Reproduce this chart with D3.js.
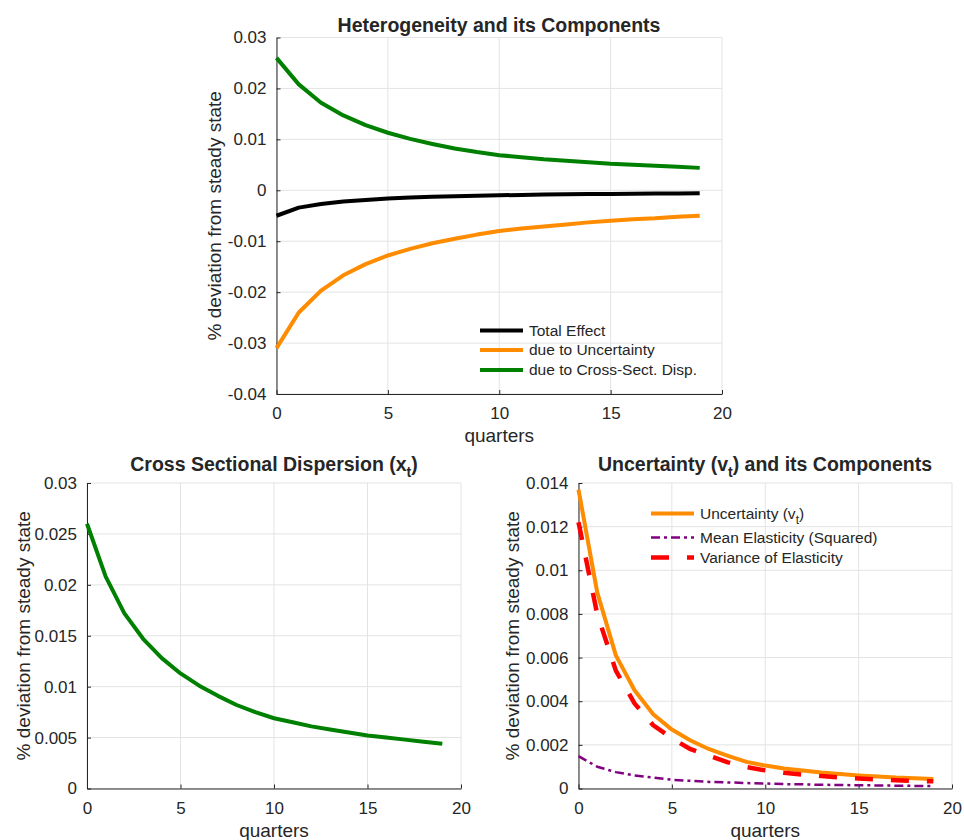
<!DOCTYPE html>
<html>
<head>
<meta charset="utf-8">
<script src="https://cdn.jsdelivr.net/npm/d3@7"></script>
<style>
  body { margin: 0; background: #fff; }
  text { font-family: "Liberation Sans", Arial, Helvetica, sans-serif; fill: #262626; }
</style>
</head>
<body>
<div class="canvas"></div>
<script>
// quarters after the shock
const quarters = [0, 1, 2, 3, 4, 5, 6, 7, 8, 9, 10, 11, 12, 13, 14, 15, 16, 17, 18, 19];

// top panel series
const totalEffect = [-0.0050, -0.0034, -0.0027, -0.0022, -0.0019, -0.0016, -0.0014, -0.00128, -0.00116, -0.00106,
  -0.00098, -0.00091, -0.00085, -0.0008, -0.00075, -0.00071, -0.00068, -0.00065, -0.00062, -0.0006];
const dueToUncertainty = [-0.0310, -0.0240, -0.0197, -0.0167, -0.0145, -0.0128, -0.0115, -0.0104, -0.0095, -0.0087,
  -0.0080, -0.0075, -0.0071, -0.0067, -0.0063, -0.0060, -0.0057, -0.0055, -0.0052, -0.0050];
const dueToDispersion = [0.0260, 0.0208, 0.0172, 0.0147, 0.0128, 0.0113, 0.0101, 0.0091, 0.0082, 0.0075,
  0.0069, 0.0065, 0.0061, 0.0058, 0.0055, 0.0052, 0.0050, 0.0048, 0.0046, 0.0044];

// bottom left: cross sectional dispersion x_t
const dispersion = [0.0260, 0.0208, 0.0172, 0.0147, 0.0128, 0.0113, 0.0101, 0.0091, 0.0082, 0.0075,
  0.0069, 0.0065, 0.0061, 0.0058, 0.0055, 0.0052, 0.0050, 0.0048, 0.0046, 0.0044];

// bottom right: uncertainty v_t and its components
const uncertainty = [0.0137, 0.0090, 0.0061, 0.0045, 0.0034, 0.0027, 0.0022, 0.0018, 0.0015, 0.00122,
  0.00105, 0.00092, 0.00082, 0.00073, 0.00066, 0.0006, 0.00055, 0.0005, 0.00047, 0.00044];
const meanElasticitySq = [0.00148, 0.0010, 0.00075, 0.0006, 0.0005, 0.0004, 0.00035, 0.0003, 0.00028, 0.00025,
  0.00023, 0.0002, 0.00019, 0.00017, 0.00016, 0.00015, 0.00014, 0.00013, 0.00012, 0.00011];
const varianceElasticity = [0.0122, 0.0080, 0.0054, 0.0039, 0.0029, 0.0023, 0.0018, 0.0015, 0.0012, 0.00098,
  0.00083, 0.00072, 0.00064, 0.00057, 0.00051, 0.00046, 0.00042, 0.00038, 0.00035, 0.00033];

// ticks
const xTicks = [0, 5, 10, 15, 20];
const topYTicks = [-0.04, -0.03, -0.02, -0.01, 0, 0.01, 0.02, 0.03];
const leftYTicks = [0, 0.005, 0.01, 0.015, 0.02, 0.025, 0.03];
const rightYTicks = [0, 0.002, 0.004, 0.006, 0.008, 0.01, 0.012, 0.014];

const svg = d3.select('.canvas')
  .append('svg')
  .attr('width', 964)
  .attr('height', 840);

const fmt = d => d === 0 ? '0' : String(+d.toFixed(4));

function panel(box, yTicks) {
  const x = d3.scaleLinear().domain([0, 20]).range([box.left, box.right]);
  const y = d3.scaleLinear().domain([yTicks[0], yTicks[yTicks.length - 1]]).range([box.bottom, box.top]);
  const g = svg.append('g');

  // grid
  g.selectAll('.gx').data(xTicks).enter().append('line')
    .attr('x1', d => x(d)).attr('x2', d => x(d))
    .attr('y1', box.top).attr('y2', box.bottom)
    .attr('stroke', '#e3e3e3').attr('stroke-width', 1);
  g.selectAll('.gy').data(yTicks).enter().append('line')
    .attr('x1', box.left).attr('x2', box.right)
    .attr('y1', d => y(d)).attr('y2', d => y(d))
    .attr('stroke', '#e3e3e3').attr('stroke-width', 1);

  const xAxis = g.append('g')
    .attr('transform', `translate(0,${box.bottom})`)
    .call(d3.axisBottom(x).tickValues(xTicks).tickFormat(fmt).tickSizeInner(-4).tickSizeOuter(0).tickPadding(13));
  const yAxis = g.append('g')
    .attr('transform', `translate(${box.left},0)`)
    .call(d3.axisLeft(y).tickValues(yTicks).tickFormat(fmt).tickSizeInner(-4).tickSizeOuter(0).tickPadding(10));
  [xAxis, yAxis].forEach(a => {
    a.selectAll('path, line').attr('stroke', '#262626');
    a.selectAll('text').style('font-size', '17px').attr('fill', '#262626');
    a.attr('font-family', null);
  });

  // labels
  g.append('text')
    .attr('x', (box.left + box.right) / 2).attr('y', box.bottom + 48)
    .attr('text-anchor', 'middle').style('font-size', '19px')
    .text('quarters');
  g.append('text')
    .attr('transform', `translate(${box.ylab},${(box.top + box.bottom) / 2}) rotate(-90)`)
    .attr('text-anchor', 'middle').attr('dy', '0.35em').style('font-size', '19px')
    .text('% deviation from steady state');

  return { g, x, y };
}

function title(g, cx, yPos, parts) {
  const t = g.append('text')
    .attr('x', cx).attr('y', yPos)
    .attr('text-anchor', 'middle')
    .style('font-size', '19.5px').style('font-weight', 'bold');
  parts.forEach(p => {
    const s = t.append('tspan').text(p.text);
    if (p.sub) s.attr('dy', 6).style('font-size', '14px');
    if (p.after) s.attr('dy', -6);
  });
}

function drawLine(p, values, color, width, dash) {
  const line = d3.line()
    .x((d, i) => p.x(quarters[i]))
    .y(d => p.y(d));
  p.g.append('path')
    .datum(values)
    .attr('d', line)
    .attr('fill', 'none')
    .attr('stroke', color)
    .attr('stroke-width', width)
    .attr('stroke-linejoin', 'round')
    .attr('stroke-dasharray', dash || null);
}

function legend(g, x0, rows) {
  rows.forEach(r => {
    g.append('line')
      .attr('x1', x0).attr('x2', x0 + 43)
      .attr('y1', r.y).attr('y2', r.y)
      .attr('stroke', r.color).attr('stroke-width', r.width)
      .attr('stroke-dasharray', r.dash || null);
    const t = g.append('text')
      .attr('x', x0 + 49).attr('y', r.y).attr('dy', '0.35em')
      .style('font-size', '15.5px');
    r.parts.forEach(p => {
      const s = t.append('tspan').text(p.text);
      if (p.sub) s.attr('dy', 5).style('font-size', '12px');
      if (p.after) s.attr('dy', -5);
    });
  });
}

// top panel
const topPanel = panel({ left: 276.5, right: 722, top: 37.5, bottom: 394, ylab: 214 }, topYTicks);
title(topPanel.g, 499, 32, [{ text: 'Heterogeneity and its Components' }]);
drawLine(topPanel, totalEffect, '#000000', 4);
drawLine(topPanel, dueToUncertainty, '#ff8c00', 4);
drawLine(topPanel, dueToDispersion, '#008000', 4);
legend(topPanel.g, 480, [
  { y: 330.5, color: '#000000', width: 4, parts: [{ text: 'Total Effect' }] },
  { y: 350, color: '#ff8c00', width: 4, parts: [{ text: 'due to Uncertainty' }] },
  { y: 370, color: '#008000', width: 4, parts: [{ text: 'due to Cross-Sect. Disp.' }] }
]);

// bottom left
const blPanel = panel({ left: 87, right: 461, top: 483, bottom: 788.5, ylab: 23 }, leftYTicks);
title(blPanel.g, 274, 471, [{ text: 'Cross Sectional Dispersion (x' }, { text: 't', sub: true }, { text: ')', after: true }]);
drawLine(blPanel, dispersion, '#008000', 4);

// bottom right
const brPanel = panel({ left: 578.5, right: 952, top: 483, bottom: 788.5, ylab: 512 }, rightYTicks);
title(brPanel.g, 765, 471, [{ text: 'Uncertainty (v' }, { text: 't', sub: true }, { text: ') and its Components', after: true }]);
drawLine(brPanel, uncertainty, '#ff8c00', 4);
drawLine(brPanel, meanElasticitySq, '#800080', 2.5, '9,4,3,4');
drawLine(brPanel, varianceElasticity, '#ff0000', 4.5, '18,18');
legend(brPanel.g, 651, [
  { y: 513.5, color: '#ff8c00', width: 4, parts: [{ text: 'Uncertainty (v' }, { text: 't', sub: true }, { text: ')', after: true }] },
  { y: 537.5, color: '#800080', width: 2.5, dash: '9,4,3,4', parts: [{ text: 'Mean Elasticity (Squared)' }] },
  { y: 557.5, color: '#ff0000', width: 4.5, dash: '18,18', parts: [{ text: 'Variance of Elasticity' }] }
]);
</script>
</body>
</html>
